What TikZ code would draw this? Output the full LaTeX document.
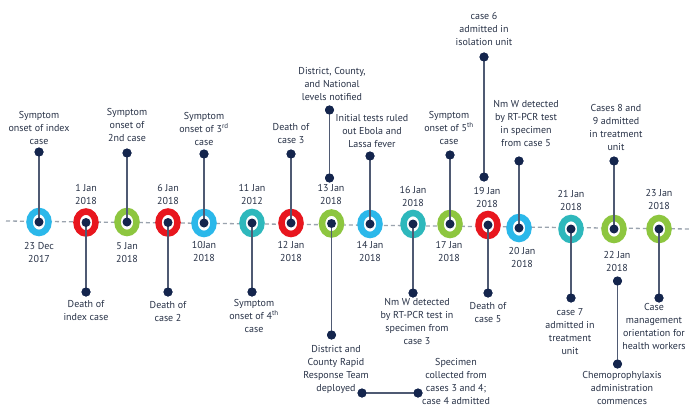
\documentclass[tikz,border=0pt]{standalone}
\usepackage{fontspec}
\setmainfont{PT Sans}
\usetikzlibrary{shapes.geometric}
\definecolor{cblue}{HTML}{2BB8EA}
\definecolor{cred}{HTML}{E8161E}
\definecolor{cgreen}{HTML}{8DC63F}
\definecolor{cteal}{HTML}{2EB8BC}
\definecolor{navy}{HTML}{14254D}
\definecolor{stemc}{HTML}{4F5A73}
\definecolor{txt}{HTML}{283247}
\definecolor{dashc}{HTML}{9AA3AE}
\begin{document}
\begin{tikzpicture}[x=1pt,y=-1pt,
 ring/.style={ellipse, draw=#1, line width=6.5pt, fill=white, minimum width=19pt, minimum height=22pt, inner sep=0},
 cdot/.style={circle, fill=navy, minimum size=9pt, inner sep=0},
 stem/.style={draw=stemc, line width=1.6pt},
 lbl/.style={anchor=north, align=center, inner sep=0, text=txt, font=\fontsize{10}{13}\selectfont},
 tl/.style={draw=dashc, line width=1.3pt, dash pattern=on 4pt off 3pt},
]
\useasboundingbox[fill=white] (0,0) rectangle (690,409);
% timeline
\coordinate (tlA) at (6,221);
\coordinate (tlB) at (690,229);
\draw[tl] (tlA) -- (tlB);
% rings
\node[ring=cblue]  (r1)  at (39,222) {};
\node[ring=cred]   (r2)  at (86,222.5) {};
\node[ring=cgreen] (r3)  at (127,222) {};
\node[ring=cred]   (r4)  at (168,222.5) {};
\node[ring=cblue]  (r5)  at (204,223) {};
\node[ring=cteal]  (r6)  at (252,223) {};
\node[ring=cred]   (r7)  at (291,223) {};
\node[ring=cgreen] (r8)  at (331.5,223.5) {};
\node[ring=cblue]  (r9)  at (370,224) {};
\node[ring=cteal]  (r10) at (413,224) {};
\node[ring=cgreen] (r11) at (450,224) {};
\node[ring=cred]   (r12) at (488,225) {};
\node[ring=cblue]  (r13) at (519,228) {};
\node[ring=cteal]  (r14) at (571,229) {};
\node[ring=cgreen] (r15) at (614,229) {};
\node[ring=cgreen] (r16) at (659,229) {};
% end dots
\node[cdot] (e1)  at (39,152) {};
\node[cdot] (e2)  at (86,292) {};
\node[cdot] (e3)  at (127,153) {};
\node[cdot] (e4)  at (168,292) {};
\node[cdot] (e5)  at (204,154) {};
\node[cdot] (e6)  at (252,292) {};
\node[cdot] (e7)  at (291,154) {};
\node[cdot] (e8a) at (329.5,178) {};
\node[cdot] (e8b) at (329.5,110) {};
\node[cdot] (e8)  at (331.5,335) {};
\node[cdot] (h1)  at (362,393) {};
\node[cdot] (h2)  at (418,393) {};
\node[cdot] (e9)  at (370,156) {};
\node[cdot] (e10) at (413,293) {};
\node[cdot] (e11) at (450,155) {};
\node[cdot] (e12a) at (484,177) {};
\node[cdot] (e12b) at (484,57) {};
\node[cdot] (e12) at (488,293) {};
\node[cdot] (e13) at (519,161) {};
\node[cdot] (e14) at (571,298) {};
\node[cdot] (e15) at (614,161) {};
\node[cdot] (e15a) at (617.5,281) {};
\node[cdot] (e15b) at (617.5,364) {};
\node[cdot] (e16) at (659,298) {};
% stems
\draw[stem] (r1.center) -- (e1.center);
\draw[stem] (r2.center) -- (e2.center);
\draw[stem] (r3.center) -- (e3.center);
\draw[stem] (r4.center) -- (e4.center);
\draw[stem] (r5.center) -- (e5.center);
\draw[stem] (r6.center) -- (e6.center);
\draw[stem] (r7.center) -- (e7.center);
\draw[stem] (e8a.center) -- (e8b.center);
\draw[stem] (r8.center) -- (e8.center);
\draw[stem] (h1.center) -- (h2.center);
\draw[stem] (r9.center) -- (e9.center);
\draw[stem] (r10.center) -- (e10.center);
\draw[stem] (r11.center) -- (e11.center);
\draw[stem] (e12a.center) -- (e12b.center);
\draw[stem] (r12.center) -- (e12.center);
\draw[stem] (r13.center) -- (e13.center);
\draw[stem] (r14.center) -- (e14.center);
\draw[stem] (r15.center) -- (e15.center);
\draw[stem] (e15a.center) -- (e15b.center);
\draw[stem] (r16.center) -- (e16.center);
% redraw dots on top
\foreach \n in {e1,e2,e3,e4,e5,e6,e7,e8a,e8b,e8,h1,h2,e9,e10,e11,e12a,e12b,e12,e13,e14,e15,e15a,e15b,e16}
  \fill[navy] (\n.center) circle (4.5pt);
\foreach \n in {1,...,16}
  \node[cdot] (c\n) at (r\n.center) {};
% labels
\node[lbl] (l1)  at (39,111)  {Symptom\\onset of index\\case};
\node[lbl] (d1)  at (39,242)  {23 Dec\\2017};
\node[lbl] (d2)  at (86,184)  {1 Jan\\2018};
\node[lbl] (l2)  at (86,300)  {Death of\\index case};
\node[lbl] (l3)  at (127,108) {Symptom\\onset of\\2nd case};
\node[lbl] (d3)  at (127,242) {5 Jan\\2018};
\node[lbl] (d4)  at (168,184) {6 Jan\\2018};
\node[lbl] (l4)  at (168,301) {Death of\\case 2};
\node[lbl] (l5)  at (204,112) {Symptom\\onset of 3\textsuperscript{rd}\\case};
\node[lbl] (d5)  at (204,241) {10Jan\\2018};
\node[lbl] (d6)  at (252,184) {11 Jan\\2012};
\node[lbl] (l6)  at (254,299) {Symptom\\onset of 4\textsuperscript{th}\\case};
\node[lbl] (l7)  at (291,123) {Death of\\case 3};
\node[lbl] (d7)  at (291,241) {12 Jan\\2018};
\node[lbl] (d8)  at (331,184) {13 Jan\\2018};
\node[lbl] (l8a) at (332,67)  {District, County,\\and National\\levels notified};
\node[lbl] (l8)  at (336,345) {District and\\County Rapid\\Response Team\\deployed};
\node[lbl] (lh)  at (456,358) {Specimen\\collected from\\cases 3 and 4;\\case 4 admitted};
\node[lbl] (l9)  at (372,114) {Initial tests ruled\\out Ebola and\\Lassa fever};
\node[lbl] (d9)  at (370,241) {14 Jan\\2018};
\node[lbl] (d10) at (413,186) {16 Jan\\2018};
\node[lbl] (l10) at (417,298) {Nm W detected\\by RT-PCR test in\\specimen from\\case 3};
\node[lbl] (l11) at (449,111) {Symptom\\onset of 5\textsuperscript{th}\\case};
\node[lbl] (d11) at (449,241) {17 Jan\\2018};
\node[lbl] (d12) at (487,187) {19 Jan\\2018};
\node[lbl] (l12a) at (484,12) {case 6\\admitted in\\isolation unit};
\node[lbl] (l12) at (488,302) {Death of\\case 5};
\node[lbl] (l13) at (526,100) {Nm W detected\\by RT-PCR test\\in specimen\\from case 5};
\node[lbl] (d13) at (522,247) {20 Jan\\2018};
\node[lbl] (d14) at (571,190) {21 Jan\\2018};
\node[lbl] (l14) at (570,308) {case 7\\admitted in\\treatment\\unit};
\node[lbl] (l15) at (616,104) {Cases 8 and\\9 admitted\\in treatment\\unit};
\node[lbl] (d15) at (617,251) {22 Jan\\2018};
\node[lbl] (l15b) at (622,371) {Chemoprophylaxis\\administration\\commences};
\node[lbl] (d16) at (659,189) {23 Jan\\2018};
\node[lbl] (l16) at (654,303) {Case\\management\\orientation for\\health workers};
\end{tikzpicture}
\end{document}
